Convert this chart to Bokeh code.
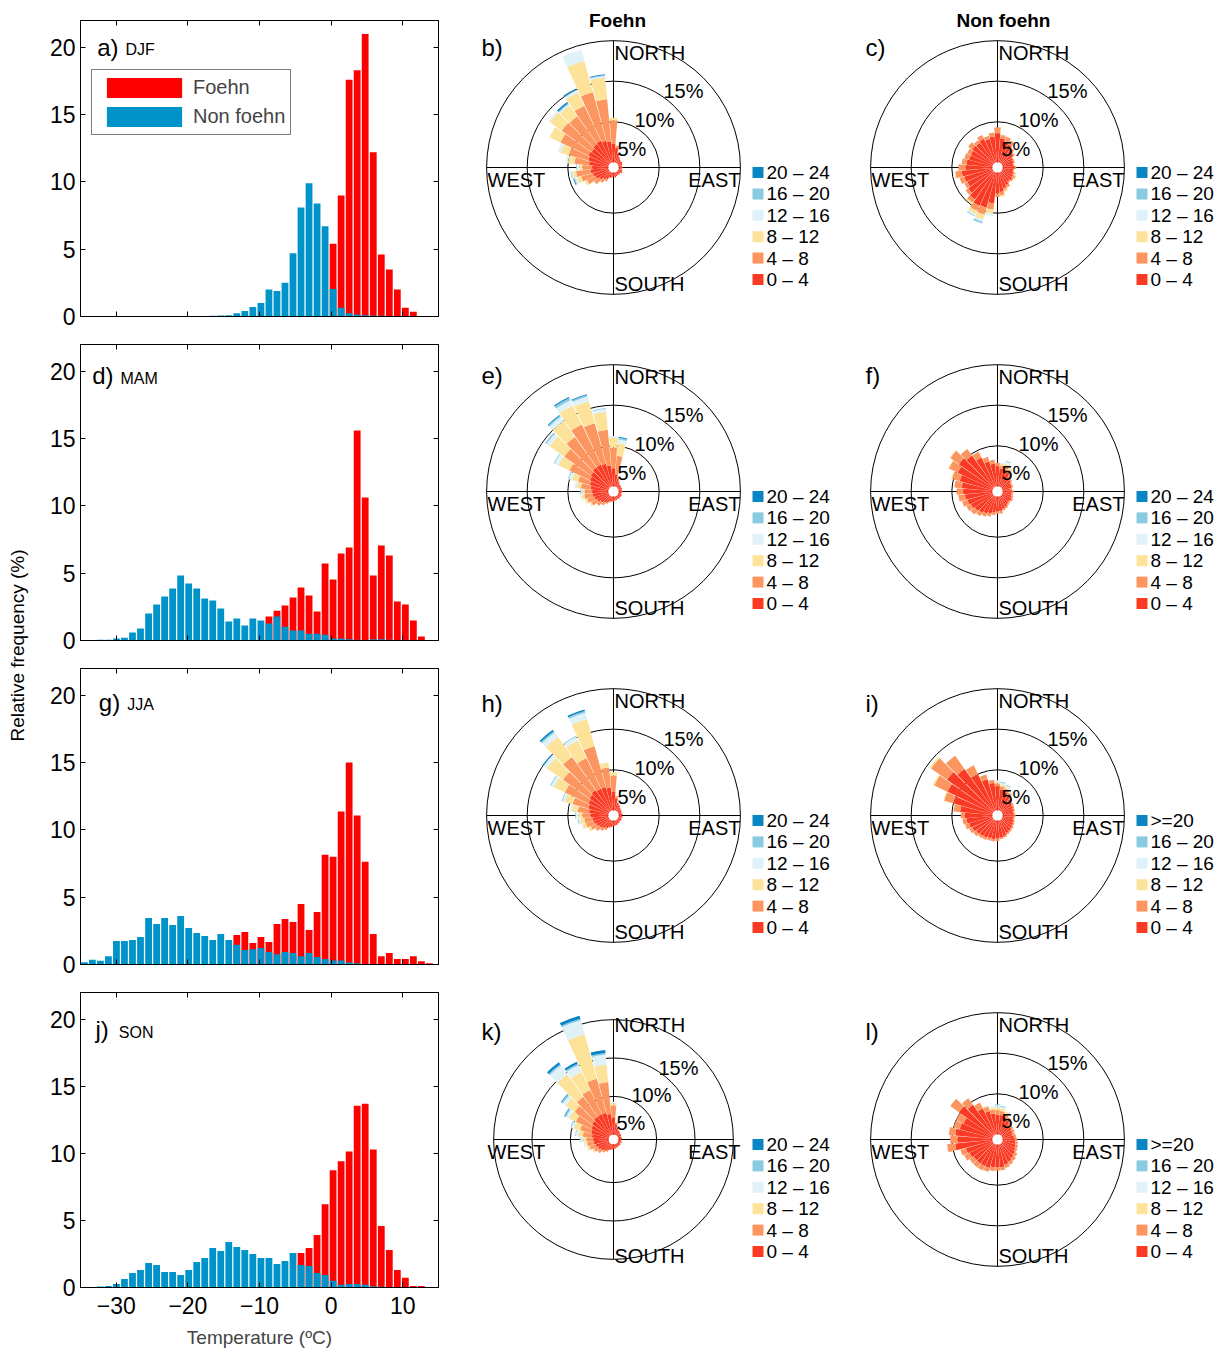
import numpy as np
from bokeh.plotting import figure
from bokeh.layouts import row, column
from bokeh.models import Range1d, LinearAxis, FixedTicker, Legend, LegendItem, Spacer
from bokeh.embed import file_html
from bokeh.resources import INLINE
from bokeh.core.properties import value

FONT = "Liberation Sans"
RED = "#ff0000"
BLUE = "#0093c9"

# ---------------- histogram data (relative frequency, %) ----------------
temp_centers = [-34.46, -33.34, -32.22, -31.10, -29.98, -28.86, -27.74, -26.62, -25.49, -24.37,
                -23.25, -22.13, -21.01, -19.89, -18.77, -17.65, -16.53, -15.41, -14.29, -13.17,
                -12.05, -10.93, -9.80, -8.68, -7.56, -6.44, -5.32, -4.20, -3.08, -1.96,
                -0.84, 0.28, 1.40, 2.52, 3.64, 4.76, 5.89, 7.01, 8.13, 9.25,
                10.37, 11.49, 12.61, 13.73]

djf_foehn = [0, 0, 0, 0, 0, 0, 0, 0, 0, 0, 0, 0, 0, 0, 0, 0, 0, 0, 0, 0, 0, 0, 0, 0, 0, 0, 0, 0, 0, 0,
             0, 5.4, 9.0, 17.6, 18.3, 21.0, 12.2, 4.6, 3.5, 2.0, 0.65, 0.35, 0, 0]
djf_nonfoehn = [0, 0, 0, 0, 0, 0, 0, 0, 0, 0, 0, 0, 0, 0.03, 0.03, 0.03, 0.05, 0.08, 0.10, 0.25,
                0.40, 0.70, 1.0, 2.0, 1.9, 2.5, 4.7, 8.1, 9.9, 8.4,
                6.7, 2.05, 0.65, 0.25, 0.15, 0.10, 0.07, 0.05, 0.02, 0, 0, 0, 0, 0]
mam_foehn = [0, 0, 0, 0, 0, 0, 0, 0, 0, 0, 0, 0, 0, 0, 0, 0, 0, 0, 0, 0, 0, 0, 0, 1.78, 2.22, 2.60, 3.19, 3.94, 3.34, 2.15,
             5.72, 4.53, 6.46, 6.91, 15.6, 10.63, 4.83, 7.06, 6.31, 2.89, 2.67, 1.48, 0.29, 0]
mam_nonfoehn = [0.02, 0.02, 0.05, 0.05, 0.15, 0.2, 0.6, 0.9, 2.0, 2.67, 3.27, 3.86, 4.83, 4.23, 3.86, 3.12, 2.97, 2.37, 1.41, 1.63,
                1.11, 1.63, 1.48, 1.26, 1.78, 1.03, 0.74, 0.74, 0.51, 0.51,
                0.42, 0.14, 0.14, 0.09, 0.05, 0.0, 0.10, 0.09, 0.05, 0, 0, 0, 0, 0]
jja_foehn = [0, 0, 0, 0, 0, 0, 0, 0, 0, 0, 0, 0, 0, 0, 0, 0, 0, 0, 0, 2.19, 2.41, 1.59, 2.04, 1.67, 3.01, 3.38, 3.16, 4.50, 2.56, 3.91,
             8.16, 8.01, 11.37, 15.02, 11.07, 7.64, 2.26, 0.62, 0.85, 0.40, 0.40, 0.62, 0.25, 0.10]
jja_nonfoehn = [0.17, 0.35, 0.27, 0.62, 1.74, 1.74, 1.82, 2.04, 3.46, 3.01, 3.46, 2.94, 3.61, 2.71, 2.34, 2.11, 1.82, 2.26, 1.82, 1.47,
                1.07, 1.14, 1.22, 0.92, 0.77, 0.92, 0.85, 0.62, 0.85, 0.55,
                0.40, 0.30, 0.30, 0.15, 0.10, 0.02, 0, 0, 0, 0, 0, 0, 0, 0]
son_foehn = [0, 0, 0, 0, 0, 0, 0, 0, 0, 0, 0, 0, 0, 0, 0, 0, 0, 0, 0, 0, 0, 0, 0, 0, 0, 0, 0, 2.57, 2.95, 3.91,
             6.21, 8.74, 9.41, 10.15, 13.56, 13.71, 10.30, 4.58, 2.80, 1.31, 0.72, 0.12, 0.12, 0]
son_nonfoehn = [0, 0, 0.07, 0.12, 0.27, 0.64, 1.09, 1.31, 1.83, 1.68, 1.16, 1.16, 0.94, 1.31, 1.91, 2.20, 2.95, 2.72, 3.39, 3.02,
                2.80, 2.50, 2.20, 2.20, 1.76, 1.98, 2.57, 1.68, 1.61, 1.09,
                0.94, 0.50, 0.20, 0.27, 0.27, 0.20, 0.10, 0.05, 0, 0, 0, 0, 0, 0]

season_names = ["DJF", "MAM", "JJA", "SON"]
hist_panel_labels = ["a)", "d)", "g)", "j)"]
x_ticks = [-30, -20, -10, 0, 10]
x_tick_labels = ["\u221230", "\u221220", "\u221210", "0", "10"]
y_ticks = [0, 5, 10, 15, 20]

# ---------------- wind rose data (% per 10-degree sector, N then clockwise) ----------------
directions = [0, 10, 20, 30, 40, 50, 60, 70, 80, 90, 100, 110, 120, 130, 140, 150, 160, 170,
              180, 190, 200, 210, 220, 230, 240, 250, 260, 270, 280, 290, 300, 310, 320, 330, 340, 350]
speed_classes = ["0 \u2013 4", "4 \u2013 8", "8 \u2013 12", "12 \u2013 16", "16 \u2013 20", "20 \u2013 24"]
speed_colors = ["#f93b25", "#fc9661", "#fde29a", "#def2f8", "#88cbe3", "#0a85c2"]

# b) Foehn DJF
b_0_4 = [2.3, 1.8, 1.2, 0.8, 0.6, 0.5, 0.6, 0.5, 0.4, 0.5, 0.4, 0.5, 0.6, 0.4, 0.5, 0.4, 0.5, 0.6,
         0.5, 0.6, 0.7, 1.0, 1.2, 1.5, 1.8, 2.0, 2.2, 2.0, 2.4, 2.6, 2.8, 2.7, 2.9, 3.0, 2.8, 2.6]
b_4_8 = [2.9, 0.3, 0.1, 0, 0, 0, 0, 0, 0, 0, 0, 0, 0, 0, 0, 0, 0, 0,
         0, 0, 0.1, 0.3, 0.5, 0.8, 1.2, 1.5, 1.8, 1.2, 1.8, 2.5, 3.8, 4.5, 4.2, 4.8, 6.2, 5.2]
b_8_12 = [0.3, 0, 0, 0, 0, 0, 0, 0, 0, 0, 0, 0, 0, 0, 0, 0, 0, 0,
          0, 0, 0, 0, 0, 0, 0.3, 0.5, 0.4, 0.4, 0.8, 1.0, 1.5, 1.8, 1.6, 1.8, 4.0, 2.7]
b_12_16 = [0, 0, 0, 0, 0, 0, 0, 0, 0, 0, 0, 0, 0, 0, 0, 0, 0, 0,
           0, 0, 0, 0, 0, 0, 0, 0.3, 0.2, 0.3, 0.3, 0.4, 0, 0.2, 0.2, 0.3, 1.4, 0.2]
b_16_20 = [0, 0, 0, 0, 0, 0, 0, 0, 0, 0, 0, 0, 0, 0, 0, 0, 0, 0,
           0, 0, 0, 0, 0, 0, 0, 0.1, 0.1, 0.1, 0, 0, 0, 0, 0.15, 0.1, 0, 0.1]
b_20_24 = [0, 0, 0, 0, 0, 0, 0, 0, 0, 0, 0, 0, 0, 0, 0, 0, 0, 0,
           0, 0, 0, 0, 0, 0, 0, 0.1, 0, 0, 0, 0, 0, 0, 0.2, 0.15, 0, 0.1]

# c) Non foehn DJF
c_0_4 = [3.6, 3.0, 2.7, 2.5, 2.0, 1.8, 1.5, 1.4, 1.3, 1.5, 1.3, 1.4, 1.5, 1.6, 1.5, 1.8, 2.0, 2.4,
         2.6, 3.8, 4.5, 4.6, 4.2, 3.8, 3.5, 3.6, 3.8, 3.3, 3.2, 3.0, 3.0, 3.2, 3.1, 3.3, 3.0, 3.2]
c_4_8 = [0.7, 0.4, 0.6, 0.5, 0.3, 0.2, 0.1, 0.2, 0.1, 0.2, 0.1, 0.2, 0.3, 0.2, 0.2, 0.3, 0.3, 0.4,
         0.4, 0.8, 0.9, 0.7, 0.5, 0.4, 0.4, 0.6, 0.8, 0.9, 0.6, 0.6, 0.5, 0.6, 0.4, 0.5, 0.4, 0.5]
c_8_12 = [0, 0, 0, 0, 0, 0, 0, 0, 0, 0, 0, 0.2, 0.2, 0, 0, 0, 0.2, 0.2,
          0, 0.5, 0.6, 0.4, 0.2, 0, 0, 0, 0.1, 0, 0, 0, 0, 0, 0, 0, 0, 0]
c_12_16 = [0, 0, 0, 0, 0, 0, 0, 0, 0, 0, 0, 0, 0, 0, 0, 0, 0, 0,
           0, 0.3, 0.3, 0.2, 0, 0, 0, 0, 0, 0, 0, 0, 0, 0, 0, 0, 0, 0]
c_16_20 = [0, 0, 0, 0, 0, 0, 0, 0, 0, 0, 0, 0, 0, 0, 0, 0, 0, 0,
           0, 0, 0.15, 0.1, 0, 0, 0, 0, 0, 0, 0, 0, 0, 0, 0, 0, 0, 0]
c_20_24 = [0, 0, 0, 0, 0, 0, 0, 0, 0, 0, 0, 0, 0, 0, 0, 0, 0, 0,
           0, 0, 0.05, 0, 0, 0, 0, 0, 0, 0, 0, 0, 0, 0, 0, 0, 0, 0]

# e) Foehn MAM
e_0_4 = [2.2, 1.5, 1.0, 0.7, 0.5, 0.5, 0.4, 0.5, 0.4, 0.5, 0.4, 0.4, 0.5, 0.4, 0.5, 0.4, 0.5, 0.5,
         0.6, 0.6, 0.7, 0.9, 1.1, 1.3, 1.6, 1.8, 2.0, 2.0, 2.2, 2.4, 2.6, 2.8, 3.0, 3.0, 2.9, 2.6]
e_4_8 = [2.6, 2.3, 0.3, 0.1, 0, 0, 0, 0, 0, 0, 0, 0, 0, 0, 0, 0, 0, 0,
         0, 0, 0.1, 0.2, 0.4, 0.6, 0.8, 0.9, 1.0, 0.9, 1.2, 1.5, 2.8, 4.0, 4.6, 5.5, 5.2, 4.4]
e_8_12 = [1.2, 1.5, 0, 0, 0, 0, 0, 0, 0, 0, 0, 0, 0, 0, 0, 0, 0, 0,
          0, 0, 0, 0, 0, 0, 0.2, 0.3, 0.3, 0.3, 0.5, 0.8, 1.5, 2.2, 2.4, 2.6, 2.8, 2.2]
e_12_16 = [0.2, 0.5, 0, 0, 0, 0, 0, 0, 0, 0, 0, 0, 0, 0, 0, 0, 0, 0,
           0, 0, 0, 0, 0, 0, 0, 0, 0.2, 0.2, 0.3, 0.4, 0.5, 0.5, 0.6, 0.7, 0.6, 0.4]
e_16_20 = [0, 0.2, 0, 0, 0, 0, 0, 0, 0, 0, 0, 0, 0, 0, 0, 0, 0, 0,
           0, 0, 0, 0, 0, 0, 0, 0, 0, 0.1, 0, 0.1, 0.1, 0.2, 0.2, 0.3, 0.2, 0.1]
e_20_24 = [0, 0.1, 0, 0, 0, 0, 0, 0, 0, 0, 0, 0, 0, 0, 0, 0, 0, 0,
           0, 0, 0, 0, 0, 0, 0, 0, 0, 0, 0, 0, 0, 0, 0.1, 0.15, 0.1, 0]

# f) Non foehn MAM
f_0_4 = [2.5, 2.2, 2.2, 2.0, 1.6, 1.4, 1.2, 1.2, 1.0, 1.2, 1.1, 1.2, 1.3, 1.2, 1.3, 1.5, 1.6, 1.8,
         1.8, 2.0, 2.2, 2.4, 2.6, 2.8, 3.0, 3.2, 3.4, 3.6, 3.8, 4.2, 4.8, 5.2, 4.8, 4.0, 3.2, 2.8]
f_4_8 = [0.4, 0.4, 0.5, 0.4, 0.3, 0.2, 0.2, 0.2, 0.2, 0.2, 0.2, 0.2, 0.2, 0.2, 0.2, 0.2, 0.2, 0.3,
         0.3, 0.3, 0.4, 0.4, 0.5, 0.6, 0.6, 0.7, 0.8, 0.8, 0.9, 1.0, 1.2, 1.3, 1.0, 0.8, 0.6, 0.5]
f_8_12 = [0, 0.2, 0.2, 0.2, 0, 0, 0, 0, 0, 0, 0, 0, 0, 0, 0, 0, 0, 0,
          0, 0, 0, 0, 0, 0, 0, 0, 0, 0, 0, 0.1, 0.1, 0.1, 0, 0, 0, 0]
f_12_16 = [0, 0.2, 0.3, 0.1, 0, 0, 0, 0, 0, 0, 0, 0, 0, 0, 0, 0, 0, 0,
           0, 0, 0, 0, 0, 0, 0, 0, 0, 0, 0, 0, 0, 0, 0, 0, 0, 0]
f_16_20 = [0, 0, 0.1, 0, 0, 0, 0, 0, 0, 0, 0, 0, 0, 0, 0, 0, 0, 0,
           0, 0, 0, 0, 0, 0, 0, 0, 0, 0, 0, 0, 0, 0, 0, 0, 0, 0]
f_20_24 = [0, 0, 0, 0, 0, 0, 0, 0, 0, 0, 0, 0, 0, 0, 0, 0, 0, 0,
           0, 0, 0, 0, 0, 0, 0, 0, 0, 0, 0, 0, 0, 0, 0, 0, 0, 0]

# h) Foehn JJA
h_0_4 = [2.3, 1.5, 1.0, 0.8, 0.6, 0.5, 0.5, 0.4, 0.5, 0.4, 0.5, 0.4, 0.5, 0.4, 0.5, 0.5, 0.6, 0.6,
         0.7, 0.8, 0.9, 1.1, 1.3, 1.5, 1.7, 1.9, 2.0, 2.2, 2.4, 2.6, 2.8, 3.0, 3.2, 3.0, 3.0, 2.8]
h_4_8 = [2.0, 0.3, 0, 0, 0, 0, 0, 0, 0, 0, 0, 0, 0, 0, 0, 0, 0, 0,
         0, 0, 0.1, 0.3, 0.4, 0.6, 0.8, 1.0, 1.0, 1.0, 1.4, 2.0, 3.2, 4.0, 5.0, 4.2, 5.2, 2.5]
h_8_12 = [0.4, 0, 0, 0, 0, 0, 0, 0, 0, 0, 0, 0, 0, 0, 0, 0, 0, 0,
          0, 0, 0, 0, 0, 0, 0.3, 0.4, 0.5, 0.5, 0.7, 1.0, 1.5, 2.4, 3.0, 2.4, 3.5, 0.6]
h_12_16 = [0, 0, 0, 0, 0, 0, 0, 0, 0, 0, 0, 0, 0, 0, 0, 0, 0, 0,
           0, 0, 0, 0, 0, 0, 0, 0.2, 0.2, 0.3, 0.3, 0.3, 0.4, 0.5, 0.7, 0.5, 0.8, 0.1]
h_16_20 = [0, 0, 0, 0, 0, 0, 0, 0, 0, 0, 0, 0, 0, 0, 0, 0, 0, 0,
           0, 0, 0, 0, 0, 0, 0, 0, 0.1, 0.1, 0, 0.1, 0.1, 0.1, 0.2, 0.1, 0.2, 0]
h_20_24 = [0, 0, 0, 0, 0, 0, 0, 0, 0, 0, 0, 0, 0, 0, 0, 0, 0, 0,
           0, 0, 0, 0, 0, 0, 0, 0, 0, 0, 0, 0, 0, 0.1, 0.2, 0, 0.2, 0]

# i) Non foehn JJA
i_0_4 = [3.0, 2.6, 2.4, 2.2, 1.8, 1.6, 1.5, 1.4, 1.3, 1.4, 1.3, 1.4, 1.5, 1.6, 1.7, 1.8, 2.0, 2.1,
         2.2, 2.3, 2.3, 2.4, 2.5, 2.6, 2.8, 3.0, 3.2, 3.4, 4.0, 5.0, 6.2, 7.0, 6.4, 5.0, 4.0, 3.4]
i_4_8 = [0.3, 0.4, 0.4, 0.3, 0.2, 0.2, 0.2, 0.2, 0.2, 0.2, 0.2, 0.2, 0.2, 0.2, 0.2, 0.2, 0.2, 0.2,
         0.3, 0.3, 0.3, 0.3, 0.3, 0.4, 0.4, 0.5, 0.5, 0.5, 0.8, 1.2, 1.8, 2.4, 2.0, 1.2, 0.6, 0.4]
i_8_12 = [0.2, 0.2, 0.2, 0.1, 0, 0, 0, 0, 0, 0, 0, 0, 0, 0, 0, 0, 0, 0,
          0, 0, 0, 0, 0, 0, 0, 0, 0, 0, 0.1, 0.1, 0.2, 0.2, 0, 0, 0, 0]
i_12_16 = [0.2, 0.2, 0.2, 0.1, 0, 0, 0, 0, 0, 0, 0, 0, 0, 0, 0, 0, 0, 0,
           0, 0, 0, 0, 0, 0, 0, 0, 0, 0, 0, 0, 0, 0, 0, 0, 0, 0]
i_16_20 = [0, 0.1, 0.1, 0, 0, 0, 0, 0, 0, 0, 0, 0, 0, 0, 0, 0, 0, 0,
           0, 0, 0, 0, 0, 0, 0, 0, 0, 0, 0, 0, 0, 0, 0, 0, 0, 0]
i_20_24 = [0, 0, 0, 0, 0, 0, 0, 0, 0, 0, 0, 0, 0, 0, 0, 0, 0, 0,
           0, 0, 0, 0, 0, 0, 0, 0, 0, 0, 0, 0, 0, 0, 0, 0, 0, 0]

# k) Foehn SON
k_0_4 = [2.2, 1.4, 1.0, 0.7, 0.6, 0.5, 0.5, 0.4, 0.5, 0.4, 0.4, 0.5, 0.4, 0.5, 0.4, 0.5, 0.5, 0.6,
         0.6, 0.7, 0.8, 1.0, 1.2, 1.4, 1.6, 1.8, 2.0, 2.0, 2.2, 2.4, 2.6, 2.8, 3.0, 3.0, 3.0, 2.7]
k_4_8 = [1.6, 0.2, 0, 0, 0, 0, 0, 0, 0, 0, 0, 0, 0, 0, 0, 0, 0, 0,
         0, 0, 0, 0.2, 0.3, 0.5, 0.6, 0.8, 0.8, 0.9, 1.2, 1.5, 2.2, 2.8, 3.2, 3.5, 4.6, 4.2]
k_8_12 = [0.3, 0, 0, 0, 0, 0, 0, 0, 0, 0, 0, 0, 0, 0, 0, 0, 0, 0,
          0, 0, 0, 0, 0, 0, 0.2, 0.3, 0.3, 0.5, 0.6, 0.8, 1.0, 1.4, 3.6, 2.6, 6.0, 2.3]
k_12_16 = [0.2, 0, 0, 0, 0, 0, 0, 0, 0, 0, 0, 0, 0, 0, 0, 0, 0, 0,
           0, 0, 0, 0, 0, 0, 0, 0.1, 0.2, 0.3, 0.3, 0.4, 0.4, 0.5, 1.4, 1.0, 1.9, 1.3]
k_16_20 = [0, 0, 0, 0, 0, 0, 0, 0, 0, 0, 0, 0, 0, 0, 0, 0, 0, 0,
           0, 0, 0, 0, 0, 0, 0, 0, 0, 0.1, 0.1, 0.1, 0.2, 0.2, 0.2, 0.2, 0.2, 0.2]
k_20_24 = [0, 0, 0, 0, 0, 0, 0, 0, 0, 0, 0, 0, 0, 0, 0, 0, 0, 0,
           0, 0, 0, 0, 0, 0, 0, 0, 0, 0, 0, 0, 0.1, 0.1, 0.3, 0.3, 0.4, 0.4]

# l) Non foehn SON
l_0_4 = [2.4, 2.4, 2.2, 2.0, 1.6, 1.5, 1.4, 1.3, 1.4, 1.5, 1.6, 1.7, 1.8, 2.0, 2.2, 2.4, 2.6, 2.8,
         2.8, 2.8, 3.0, 3.0, 3.0, 3.0, 3.2, 3.4, 4.6, 4.3, 4.6, 4.2, 4.0, 5.2, 4.6, 3.6, 3.0, 2.6]
l_4_8 = [0.6, 0.5, 0.5, 0.4, 0.3, 0.3, 0.3, 0.3, 0.3, 0.3, 0.3, 0.3, 0.3, 0.4, 0.4, 0.4, 0.4, 0.4,
         0.4, 0.5, 0.5, 0.6, 0.6, 0.6, 0.7, 0.7, 1.0, 0.9, 0.8, 0.8, 1.0, 1.3, 1.0, 0.8, 0.6, 0.5]
l_8_12 = [0.3, 0.3, 0.2, 0, 0, 0, 0, 0, 0, 0, 0, 0, 0, 0, 0, 0, 0, 0,
          0, 0, 0, 0, 0, 0, 0, 0, 0, 0, 0, 0, 0, 0, 0, 0, 0.1, 0.2]
l_12_16 = [0.3, 0.2, 0, 0, 0, 0, 0, 0, 0, 0, 0, 0, 0, 0, 0, 0, 0, 0,
           0, 0, 0, 0, 0, 0, 0, 0, 0, 0, 0, 0, 0, 0, 0, 0, 0, 0.2]
l_16_20 = [0.1, 0.1, 0, 0, 0, 0, 0, 0, 0, 0, 0, 0, 0, 0, 0, 0, 0, 0,
           0, 0, 0, 0, 0, 0, 0, 0, 0, 0, 0, 0, 0, 0, 0, 0, 0, 0]
l_20_24 = [0, 0, 0, 0, 0, 0, 0, 0, 0, 0, 0, 0, 0, 0, 0, 0, 0, 0,
           0, 0, 0, 0, 0, 0, 0, 0, 0, 0, 0, 0, 0, 0, 0, 0, 0, 0]

rings = [5, 10, 15]
ring_labels = ["5%", "10%", "15%"]

# ---------------- layout constants (pixels) ----------------
PAD = 8
FW, FH = 358, 296
HW = 412
RW, RH = 384, 324
RCX, RCY = 167, 159
YLAB_W = 26
LAST_BOTTOM = 62
TOTAL_H = 3 * 324 + 12 + FH + LAST_BOTTOM


def hist_fig(foehn, nonfoehn, plabel, season, lab_x, season_x, base_y, last, with_legend):
    bottom = LAST_BOTTOM if last else 16
    p = figure(width=HW, height=12 + FH + bottom, x_range=Range1d(-35, 15), y_range=Range1d(0, 22),
               output_backend="svg", toolbar_location=None,
               min_border_left=46, min_border_right=8, min_border_top=12, min_border_bottom=bottom)
    p.grid.visible = False
    p.outline_line_color = "black"
    p.outline_line_width = 1
    p.background_fill_color = "white"

    def style(ax, labels):
        ax.major_tick_in = 5
        ax.major_tick_out = 0
        ax.minor_tick_in = 0
        ax.minor_tick_out = 0
        ax.axis_line_color = "black"
        ax.major_tick_line_color = "black"
        ax.major_label_text_font = FONT
        if labels:
            ax.major_label_text_color = "black"
            ax.major_label_text_font_size = "23px"
            ax.major_label_standoff = 5
        else:
            ax.major_label_text_color = None
            ax.major_label_text_alpha = 0
            ax.major_label_text_font_size = "1px"
            ax.major_label_standoff = 0

    p.xaxis.ticker = FixedTicker(ticks=x_ticks)
    p.yaxis.ticker = FixedTicker(ticks=y_ticks)
    style(p.xaxis[0], last)
    style(p.yaxis[0], True)
    if last:
        p.xaxis.major_label_overrides = {t: s for t, s in zip(x_ticks, x_tick_labels)}
        p.xaxis.major_label_standoff = 9
        p.xaxis.axis_label = "Temperature (\u00baC)"
        p.xaxis.axis_label_text_font = FONT
        p.xaxis.axis_label_text_font_size = "19px"
        p.xaxis.axis_label_text_font_style = "normal"
        p.xaxis.axis_label_standoff = 10
    top = LinearAxis(ticker=FixedTicker(ticks=x_ticks))
    style(top, False)
    p.add_layout(top, "above")
    right = LinearAxis(ticker=FixedTicker(ticks=y_ticks))
    style(right, False)
    p.add_layout(right, "right")

    r_red = p.vbar(x=temp_centers, width=0.95, top=foehn, bottom=0, fill_color=RED, line_color=None)
    r_blue = p.vbar(x=temp_centers, width=0.95, top=nonfoehn, bottom=0, fill_color=BLUE, line_color=None)

    def dx(px):
        return -35 + px * 50.0 / FW

    def dy(py):
        return 22 - py * 22.0 / FH

    p.text(x=[dx(lab_x)], y=[dy(base_y - 8.4)], text=[plabel], text_font=value(FONT), text_font_size="24px",
           text_align="left", text_baseline="middle", text_color="black")
    p.text(x=[dx(season_x)], y=[dy(base_y - 5.8)], text=[season], text_font=value(FONT), text_font_size="16px",
           text_align="left", text_baseline="middle", text_color="black")

    if with_legend:
        leg = Legend(items=[LegendItem(label="Foehn", renderers=[r_red]),
                            LegendItem(label="Non foehn", renderers=[r_blue])],
                     location=(11, FH - 115))
        leg.border_line_color = "black"
        leg.border_line_width = 1.5
        leg.padding = 5
        leg.spacing = 4
        leg.margin = 0
        leg.glyph_width = 94
        leg.glyph_height = 25
        leg.label_height = 25
        leg.label_standoff = 2
        leg.label_text_font = FONT
        leg.label_text_font_size = "20px"
        leg.background_fill_alpha = 1
        p.add_layout(leg)
    return p


def rose_fig(classes, scale, r0px, plabel, plabel_dy, top_label, pct_offsets, title=None, title_dx=4):
    s = scale
    p = figure(width=RW, height=RH, x_range=Range1d(-RCX / s, (RW - RCX) / s),
               y_range=Range1d(-(RH - RCY) / s, RCY / s),
               output_backend="svg", toolbar_location=None, min_border=0)
    p.axis.visible = False
    p.grid.visible = False
    p.outline_line_color = None
    r0 = r0px / s
    R = r0 + rings[-1]
    p.circle(x=[0, 0, 0], y=[0, 0, 0], radius=[r0 + g for g in rings], fill_color=None,
             line_color="black", line_width=1)
    p.segment(x0=[-R, 0], y0=[0, -R], x1=[R, 0], y1=[0, R], line_color="black", line_width=1)

    dirs = np.array(directions, dtype=float)
    cum = np.zeros(len(dirs))
    hw = np.radians(4.7)
    for k, cls in enumerate(classes):
        vals = np.array(cls, dtype=float)
        m = vals > 0
        if m.any():
            ang = np.radians(90.0 - dirs[m])
            n = int(m.sum())
            p.annular_wedge(x=np.zeros(n), y=np.zeros(n), inner_radius=r0 + cum[m],
                            outer_radius=r0 + cum[m] + vals[m], start_angle=ang - hw, end_angle=ang + hw,
                            fill_color=speed_colors[k], line_color=None)
        cum = cum + vals
    p.circle(x=[0], y=[0], radius=[r0], fill_color="white", line_color=None)

    def T(xpx, ypx, txt, size="20px", align="left", baseline="middle", style="normal"):
        p.text(x=[xpx / s], y=[ypx / s], text=[txt], text_font=value(FONT), text_font_size=size,
               text_align=align, text_baseline=baseline, text_color="black", text_font_style=style)

    T(1, 115, "NORTH")
    T(1, -116, "SOUTH")
    T(-126, -12, "WEST")
    T(127, -12, "EAST", align="right")
    for (ox, oy), lab in zip(pct_offsets, ring_labels):
        T(ox, oy, lab)
    T(-132, plabel_dy, plabel, size="24px")
    if title is not None:
        T(title_dx, 147, title, size="19px", align="center", style="bold")

    leg_labels = [top_label] + speed_classes[4::-1]
    leg_colors = speed_colors[::-1]
    ys = [-(5 + 21.4 * j) / s for j in range(6)]
    p.scatter(x=[144.5 / s] * 6, y=ys, marker="square", size=11, fill_color=leg_colors, line_color=None)
    p.text(x=[153 / s] * 6, y=ys, text=leg_labels, text_font=value(FONT), text_font_size="19px",
           text_align="left", text_baseline="middle", text_color="black")
    return p


S = 8.12
SK = 7.67
pct_std = [(4, 19), (21, 48), (50, 77)]
pct_k = [(3, 17), (18, 45), (45, 72)]

rose_b = [b_0_4, b_4_8, b_8_12, b_12_16, b_16_20, b_20_24]
rose_c = [c_0_4, c_4_8, c_8_12, c_12_16, c_16_20, c_20_24]
rose_e = [e_0_4, e_4_8, e_8_12, e_12_16, e_16_20, e_20_24]
rose_f = [f_0_4, f_4_8, f_8_12, f_12_16, f_16_20, f_20_24]
rose_h = [h_0_4, h_4_8, h_8_12, h_12_16, h_16_20, h_20_24]
rose_i = [i_0_4, i_4_8, i_8_12, i_12_16, i_16_20, i_20_24]
rose_k = [k_0_4, k_4_8, k_8_12, k_12_16, k_16_20, k_20_24]
rose_l = [l_0_4, l_4_8, l_8_12, l_12_16, l_16_20, l_20_24]

h_a = hist_fig(djf_foehn, djf_nonfoehn, "a)", "DJF", 16.7, 45, 35, False, True)
h_d = hist_fig(mam_foehn, mam_nonfoehn, "d)", "MAM", 11.7, 40, 39.3, False, False)
h_g = hist_fig(jja_foehn, jja_nonfoehn, "g)", "JJA", 18.3, 46.7, 42, False, False)
h_j = hist_fig(son_foehn, son_nonfoehn, "j)", "SON", 15, 38.3, 45.7, True, False)

r_b = rose_fig(rose_b, S, 5.1, "b)", 120, "20 \u2013 24", pct_std, title="Foehn", title_dx=4)
r_c = rose_fig(rose_c, S, 5.1, "c)", 120, "20 \u2013 24", pct_std, title="Non foehn", title_dx=6)
r_e = rose_fig(rose_e, S, 5.1, "e)", 116, "20 \u2013 24", pct_std)
r_f = rose_fig(rose_f, S, 5.1, "f)", 116, "20 \u2013 24", pct_std)
r_h = rose_fig(rose_h, S, 5.1, "h)", 112, "20 \u2013 24", pct_std)
r_i = rose_fig(rose_i, S, 5.1, "i)", 112, ">=20", pct_std)
r_k = rose_fig(rose_k, SK, 4.8, "k)", 108, "20 \u2013 24", pct_k)
r_l = rose_fig(rose_l, S, 5.1, "l)", 108, ">=20", pct_std)

ylab = figure(width=YLAB_W, height=TOTAL_H, x_range=Range1d(0, YLAB_W), y_range=Range1d(0, TOTAL_H),
              output_backend="svg", toolbar_location=None, min_border=0)
ylab.axis.visible = False
ylab.grid.visible = False
ylab.outline_line_color = None
ylab.text(x=[9], y=[TOTAL_H - 637], text=["Relative frequency (%)"], angle=np.pi / 2,
          text_font=value(FONT), text_font_size="19px", text_align="center", text_baseline="middle",
          text_color="black")

layout = column(Spacer(height=PAD),
                row(Spacer(width=PAD),
                    ylab,
                    column(h_a, h_d, h_g, h_j),
                    column(r_b, r_e, r_h, r_k),
                    column(r_c, r_f, r_i, r_l)))

open("out.html", "w").write(file_html(layout, INLINE))
